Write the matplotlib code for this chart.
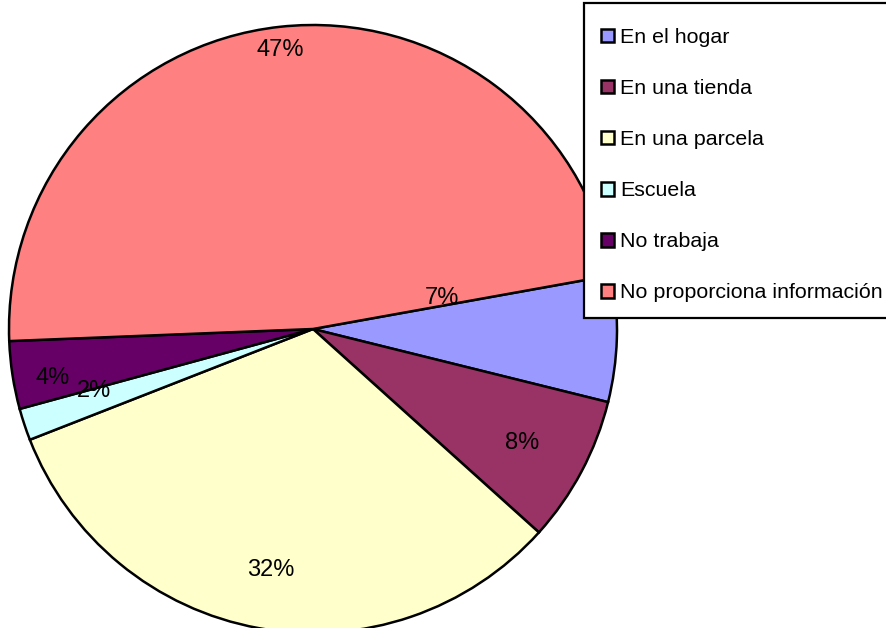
import numpy as np
import matplotlib as mpl
mpl.use('Agg')
import matplotlib.pyplot as plt
from matplotlib.patches import Patch, Rectangle

categorias = ["En el hogar", "En una tienda", "En una parcela", "Escuela",
              "No trabaja", "No proporciona información"]
valores = [6.7, 7.8, 32.4, 1.7, 3.6, 47.8]
etiquetas = ["7%", "8%", "32%", "2%", "4%", "47%"]
colores = ["#9999FF", "#993366", "#FFFFCC", "#CCFFFF", "#660066", "#FF8080"]

# where Excel put each label: distance from centre, angle shift from wedge middle
dist_lbl = [0.437, 0.783, 0.805, 0.747, 0.870, 0.924]
giro_lbl = [15.3, -0.6, 0.4, -2.5, 1.9, 0.5]

plt.rcParams['font.family'] = ['Liberation Sans', 'DejaVu Sans']

W, H = 886, 628
fig = plt.figure(figsize=(W / 100, H / 100), dpi=100)
cx, cy, r = 313, 329, 304
ax = fig.add_axes([(cx - r) / W, (H - cy - r) / H, 2 * r / W, 2 * r / H])

wedges, _ = ax.pie(valores, colors=colores, startangle=10.2, counterclock=False,
                   wedgeprops=dict(edgecolor='black', linewidth=1.8))
for w in wedges:
    w.set_clip_on(False)
ax.set_xlim(-1, 1)
ax.set_ylim(-1, 1)
ax.set_aspect('equal')
ax.axis('off')

for w, t, d, g in zip(wedges, etiquetas, dist_lbl, giro_lbl):
    ang = np.deg2rad((w.theta1 + w.theta2) / 2 + g)
    ax.text(d * np.cos(ang), d * np.sin(ang), t, ha='center', va='center',
            fontsize=17, color='black')

# legend frame (white box drawn over the pie, runs off the right edge)
caja = Rectangle((584 / W, 1 - 318 / H), 320 / W, 315 / H, transform=fig.transFigure,
                 facecolor='white', edgecolor='black', linewidth=1.6, zorder=4)
fig.patches.append(caja)

handles = [Patch(facecolor=c, edgecolor='black', linewidth=1.8) for c in colores]
leg = fig.legend(handles, categorias, loc='upper left',
                 bbox_to_anchor=(601 / W, 1 - 28 / H), fontsize=15.4,
                 frameon=False, borderpad=0, labelspacing=1.5,
                 handlelength=0.6, handleheight=0.6, handletextpad=0.28,
                 borderaxespad=0)
leg.set_zorder(5)

fig.savefig('out.png', dpi=100)
